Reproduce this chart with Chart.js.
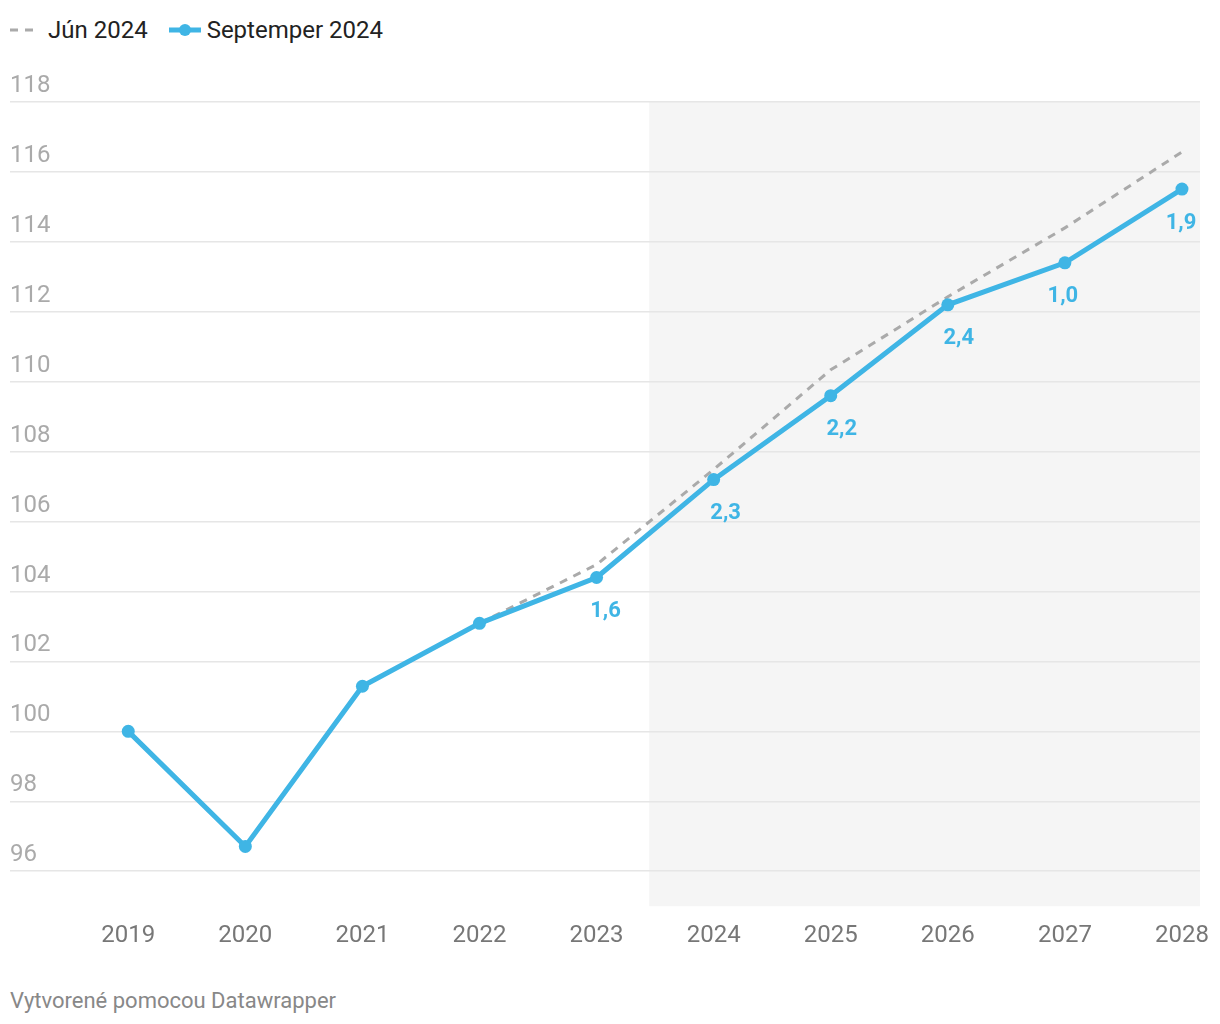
<!DOCTYPE html>
<html>
<head>
<meta charset="utf-8">
<script src="https://cdn.jsdelivr.net/npm/chart.js@4"></script>
<style>
  html, body { margin: 0; padding: 0; background: #fff; }
  #wrap { position: relative; width: 1220px; height: 1024px; font-family: Roboto, "Noto Sans", sans-serif; }
  #chart { position: absolute; left: 0; top: 0; }
  #legend { position: absolute; left: 10px; top: 16px; display: flex; align-items: center; font-size: 24px; color: #222; }
  .item { display: flex; align-items: center; margin-right: 21px; }
  .sym { margin-right: 10px; }
  #footer { position: absolute; left: 10px; top: 988px; font-size: 22px; color: #888; }
</style>
</head>
<body>
<div id="wrap">
  <div id="legend"></div>
  <canvas id="chart" width="1220" height="965"></canvas>
  <div id="footer">Vytvorené pomocou Datawrapper</div>
</div>
<script>
const years = [2019, 2020, 2021, 2022, 2023, 2024, 2025, 2026, 2027, 2028];
const seriesNames = ["Jún 2024", "Septemper 2024"];
const june2024 = [null, null, null, 103.09, 104.77, 107.49, 110.34, 112.43, 114.4, 116.57];
const sept2024 = [100, 96.71, 101.29, 103.09, 104.4, 107.2, 109.6, 112.2, 113.4, 115.51];
const growthLabels = [null, null, null, null, "1,6", "2,3", "2,2", "2,4", "1,0", "1,9"];
const yTicks = [96, 98, 100, 102, 104, 106, 108, 110, 112, 114, 116, 118];
const forecastStart = 2023.45;

const BLUE = "#3fb5e5";
const GRAY = "#aaaaaa";

// HTML legend built from series names
const legend = document.getElementById("legend");
legend.innerHTML =
  '<div class="item"><svg class="sym" width="28" height="10"><line x1="0" y1="5" x2="28" y2="5" stroke="' + GRAY + '" stroke-width="3" stroke-dasharray="8,7"/></svg>' + seriesNames[0] + '</div>' +
  '<div class="item"><svg class="sym" width="32" height="14" style="margin-right:6px"><line x1="0" y1="7" x2="32" y2="7" stroke="' + BLUE + '" stroke-width="5" stroke-linecap="round"/><circle cx="16" cy="7" r="6" fill="' + BLUE + '"/></svg>' + seriesNames[1] + '</div>';

const shadePlugin = {
  id: "shade",
  beforeDraw(chart) {
    const {ctx, chartArea, scales} = chart;
    const x0 = scales.x.getPixelForValue(forecastStart);
    ctx.save();
    ctx.fillStyle = "#f5f5f5";
    ctx.fillRect(x0, chartArea.top, chartArea.right - x0, chartArea.bottom - chartArea.top);
    ctx.restore();
  }
};

const labelPlugin = {
  id: "valueLabels",
  afterDatasetsDraw(chart) {
    const {ctx, scales} = chart;
    const dx = [0, 0, 0, 0, 9, 12, 11, 11, -2, -1];
    ctx.save();
    ctx.font = "bold 22px Roboto";
    ctx.fillStyle = BLUE;
    ctx.textAlign = "center";
    ctx.textBaseline = "middle";
    growthLabels.forEach((t, i) => {
      if (!t) return;
      const x = scales.x.getPixelForValue(years[i]) + dx[i];
      const y = scales.y.getPixelForValue(sept2024[i]) + 34;
      ctx.fillText(t, x, y);
    });
    ctx.restore();
  }
};

new Chart(document.getElementById("chart"), {
  type: "line",
  data: {
    datasets: [
      {
        label: seriesNames[1],
        data: years.map((y, i) => ({x: y, y: sept2024[i]})),
        borderColor: BLUE,
        backgroundColor: BLUE,
        borderWidth: 5,
        pointRadius: 6.5,
        pointHoverRadius: 6.5,
        pointBorderWidth: 0,
        tension: 0,
        order: 0
      },
      {
        label: seriesNames[0],
        data: years.map((y, i) => ({x: y, y: june2024[i]})),
        borderColor: GRAY,
        borderWidth: 3,
        borderDash: [8, 7],
        pointRadius: 0,
        tension: 0,
        spanGaps: false,
        order: 1
      }
    ]
  },
  options: {
    responsive: false,
    animation: false,
    events: [],
    layout: { padding: { left: 10, right: 20, top: 102, bottom: 0 } },
    plugins: { legend: { display: false }, tooltip: { enabled: false } },
    scales: {
      x: {
        type: "linear",
        min: 2017.99,
        max: 2028.154,
        afterBuildTicks(scale) { scale.ticks = years.map(v => ({value: v})); },
        afterFit(scale) { scale.paddingLeft = 0; scale.paddingRight = 0; },
        grid: { display: false, drawTicks: false },
        border: { display: false },
        ticks: {
          padding: 15,
          color: "#777",
          font: { family: "Roboto", size: 24 },
          callback: v => String(v),
          maxRotation: 0,
          autoSkip: false
        }
      },
      y: {
        min: 95,
        max: 118,
        afterBuildTicks(scale) { scale.ticks = yTicks.map(v => ({value: v})); },
        grid: { color: "#e6e6e6", lineWidth: 1.5, drawTicks: false },
        border: { display: false },
        ticks: {
          mirror: true,
          padding: 0,
          labelOffset: -16,
          color: "#aaaaaa",
          font: { family: "Roboto", size: 24 }
        }
      }
    }
  },
  plugins: [shadePlugin, labelPlugin]
});
</script>
</body>
</html>
